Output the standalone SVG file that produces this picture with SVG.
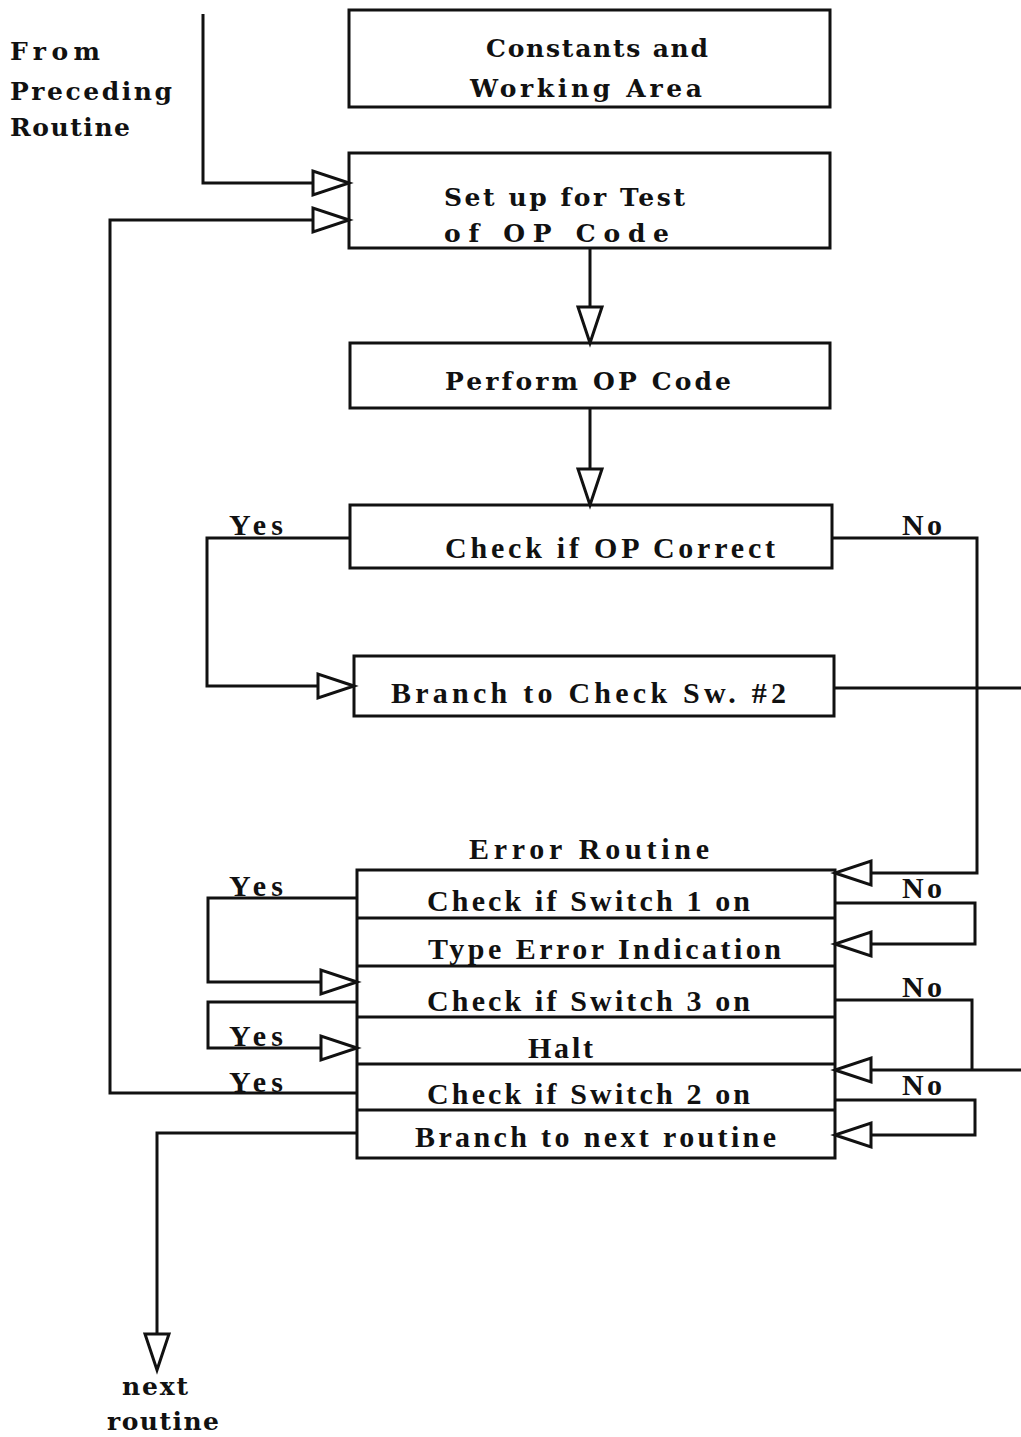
<svg xmlns="http://www.w3.org/2000/svg" width="1021" height="1437" viewBox="0 0 1021 1437">
<style>
.box{fill:none;stroke:#111;stroke-width:3}
.ln{fill:none;stroke:#111;stroke-width:3;stroke-linejoin:miter}
.t{font-family:"DejaVu Serif","Liberation Serif",serif;font-weight:bold;font-size:25px;fill:#111}
.c{font-family:"Liberation Serif","DejaVu Serif",serif;font-weight:bold;font-size:30px;fill:#111}
</style>
<defs>
<path id="ah" d="M0,0 L-36,-12 L-36,12 Z" fill="#fff" stroke="#111" stroke-width="3" stroke-linejoin="miter"/>
</defs>
<rect width="1021" height="1437" fill="#fff"/>

<g id="label-from">
<text class="t" x="10" y="60" textLength="90" lengthAdjust="spacing">From</text>
<text class="t" x="10" y="100" textLength="162" lengthAdjust="spacing">Preceding</text>
<text class="t" x="10" y="136" textLength="120" lengthAdjust="spacing">Routine</text>
</g>

<g id="n-constants">
<rect class="box" x="349" y="10" width="481" height="97"/>
<text class="t" x="486" y="57" textLength="222" lengthAdjust="spacing">Constants and</text>
<text class="t" x="470" y="97" textLength="232" lengthAdjust="spacing">Working  Area</text>
</g>

<g id="n-setup">
<rect class="box" x="349" y="153" width="481" height="95"/>
<text class="t" x="444" y="206" textLength="241" lengthAdjust="spacing">Set up for Test</text>
<text class="t" x="444" y="242" textLength="225" lengthAdjust="spacing">of   OP   Code</text>
</g>

<g id="n-perform">
<rect class="box" x="350" y="343" width="480" height="65"/>
<text class="t" x="445" y="390" textLength="286" lengthAdjust="spacing">Perform OP Code</text>
</g>

<g id="n-checkop">
<rect class="box" x="350" y="505" width="482" height="63"/>
<text class="c" x="445" y="558" textLength="330" lengthAdjust="spacing">Check if OP Correct</text>
</g>

<g id="n-branch2">
<rect class="box" x="354" y="656" width="480" height="60"/>
<text class="c" x="391" y="703" textLength="395" lengthAdjust="spacing">Branch to Check Sw.  #2</text>
</g>

<g id="n-error">
<text class="c" x="469" y="859" textLength="240" lengthAdjust="spacing">Error  Routine</text>
<rect class="box" x="357" y="870" width="478" height="288"/>
<line class="ln" x1="357" y1="918" x2="835" y2="918"/>
<line class="ln" x1="357" y1="966" x2="835" y2="966"/>
<line class="ln" x1="357" y1="1017" x2="835" y2="1017"/>
<line class="ln" x1="357" y1="1064" x2="835" y2="1064"/>
<line class="ln" x1="357" y1="1110" x2="835" y2="1110"/>
<text class="c" x="427" y="911" textLength="323" lengthAdjust="spacing">Check if Switch 1 on</text>
<text class="c" x="428" y="959" textLength="353" lengthAdjust="spacing">Type Error Indication</text>
<text class="c" x="427" y="1011" textLength="323" lengthAdjust="spacing">Check if Switch 3 on</text>
<text class="c" x="528" y="1058" textLength="65" lengthAdjust="spacing">Halt</text>
<text class="c" x="427" y="1104" textLength="323" lengthAdjust="spacing">Check if Switch 2 on</text>
<text class="c" x="415" y="1147" textLength="361" lengthAdjust="spacing">Branch to next routine</text>
</g>

<g id="label-next">
<text class="t" x="122" y="1395" textLength="66" lengthAdjust="spacing">next</text>
<text class="t" x="107" y="1430" textLength="112" lengthAdjust="spacing">routine</text>
</g>

<g id="connectors">
<path class="ln" d="M203,14 V183 H314"/>
<use href="#ah" transform="translate(349,183)"/>
<path class="ln" d="M357,1093 H110 V220 H314"/>
<use href="#ah" transform="translate(349,220)"/>
<path class="ln" d="M590,248 V307"/>
<use href="#ah" transform="translate(590,343) rotate(90)"/>
<path class="ln" d="M590,408 V469"/>
<use href="#ah" transform="translate(590,505) rotate(90)"/>
<path class="ln" d="M350,538 H207 V686 H319"/>
<use href="#ah" transform="translate(354,686)"/>
<path class="ln" d="M832,538 H977 V873 H871"/>
<use href="#ah" transform="translate(835,873) rotate(180)"/>
<path class="ln" d="M834,688 H1021"/>
<path class="ln" d="M357,898 H208 V982 H322"/>
<use href="#ah" transform="translate(357,982)"/>
<path class="ln" d="M835,903 H975 V944 H871"/>
<use href="#ah" transform="translate(835,944) rotate(180)"/>
<path class="ln" d="M357,1002 H208 V1048 H322"/>
<use href="#ah" transform="translate(357,1048)"/>
<path class="ln" d="M835,1000 H972 V1070"/>
<path class="ln" d="M1021,1070 H871"/>
<use href="#ah" transform="translate(835,1070) rotate(180)"/>
<path class="ln" d="M835,1100 H975 V1135 H871"/>
<use href="#ah" transform="translate(835,1135) rotate(180)"/>
<path class="ln" d="M357,1133 H157 V1334"/>
<use href="#ah" transform="translate(157,1370) rotate(90)"/>
<text class="c" x="229" y="535" textLength="54" lengthAdjust="spacing">Yes</text>
<text class="c" x="902" y="535" textLength="40" lengthAdjust="spacing">No</text>
<text class="c" x="229" y="896" textLength="54" lengthAdjust="spacing">Yes</text>
<text class="c" x="902" y="898" textLength="40" lengthAdjust="spacing">No</text>
<text class="c" x="229" y="1046" textLength="54" lengthAdjust="spacing">Yes</text>
<text class="c" x="902" y="997" textLength="40" lengthAdjust="spacing">No</text>
<text class="c" x="229" y="1092" textLength="54" lengthAdjust="spacing">Yes</text>
<text class="c" x="902" y="1095" textLength="40" lengthAdjust="spacing">No</text>
</g>
</svg>
